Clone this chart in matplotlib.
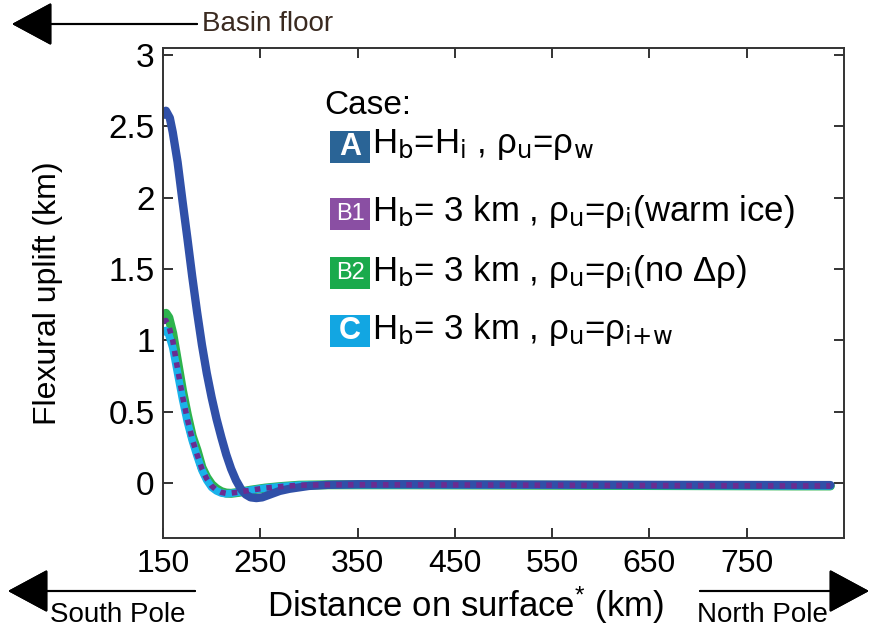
import matplotlib
matplotlib.use('Agg')
import matplotlib.pyplot as plt
from matplotlib.patches import Rectangle

# flexural uplift profiles (distance in km, uplift in km)
x_A = [150, 153, 157, 160, 165, 170, 175, 180, 185, 190, 195, 200, 205, 210, 215, 220,
       225, 230, 235, 240, 246, 252, 260, 270, 280, 290, 300, 320, 350, 400, 500, 600,
       700, 800, 836]
y_A = [2.58, 2.61, 2.56, 2.46, 2.25, 1.98, 1.72, 1.45, 1.20, 0.97, 0.77, 0.60, 0.45, 0.32,
       0.20, 0.10, 0.02, -0.04, -0.08, -0.10, -0.105, -0.10, -0.08, -0.055, -0.04, -0.03,
       -0.02, -0.012, -0.008, -0.008, -0.010, -0.012, -0.013, -0.014, -0.014]

x_B = [150, 153, 156, 160, 165, 170, 175, 180, 185, 190, 195, 200, 205, 210, 215, 220,
       228, 240, 255, 270, 290, 320, 400, 500, 600, 700, 800, 836]
y_B1 = [1.13, 1.14, 1.10, 1.00, 0.80, 0.61, 0.45, 0.31, 0.20, 0.10, 0.03, -0.02, -0.05,
        -0.065, -0.072, -0.07, -0.063, -0.05, -0.035, -0.025, -0.015, -0.012, -0.012,
        -0.014, -0.016, -0.018, -0.02, -0.02]
y_B2 = [1.15, 1.19, 1.16, 1.05, 0.85, 0.65, 0.48, 0.33, 0.23, 0.11, 0.04, -0.01, -0.04,
        -0.06, -0.07, -0.072, -0.065, -0.05, -0.035, -0.025, -0.015, -0.012, -0.012,
        -0.014, -0.016, -0.018, -0.02, -0.02]
y_C = [1.06, 1.07, 1.04, 0.95, 0.77, 0.59, 0.43, 0.30, 0.19, 0.09, 0.02, -0.03, -0.055,
       -0.07, -0.075, -0.072, -0.064, -0.05, -0.035, -0.025, -0.015, -0.012, -0.012,
       -0.014, -0.016, -0.018, -0.02, -0.02]

xticks = [150, 250, 350, 450, 550, 650, 750]
yticks = [0, 0.5, 1, 1.5, 2, 2.5, 3]
ytick_labels = ['0', '0.5', '1', '1.5', '2', '2.5', '3']

case_tags = ['A', 'B1', 'B2', 'C']
case_text = [r'H$_\mathrm{b}$=H$_\mathrm{i}$ , ρ$_\mathrm{u}$=ρ$_\mathrm{w}$',
             r'H$_\mathrm{b}$= 3 km , ρ$_\mathrm{u}$=ρ$_\mathrm{i}$(warm ice)',
             r'H$_\mathrm{b}$= 3 km , ρ$_\mathrm{u}$=ρ$_\mathrm{i}$(no Δρ)',
             r'H$_\mathrm{b}$= 3 km , ρ$_\mathrm{u}$=ρ$_{\mathrm{i{+}w}}$']
tag_colors = ['#2a6496', '#8a4fa3', '#1aaa4c', '#12a6e2']

plt.rcParams['font.family'] = ['Liberation Sans', 'DejaVu Sans']
plt.rcParams['mathtext.default'] = 'regular'
NARROW = ['Liberation Sans Narrow', 'Liberation Sans', 'DejaVu Sans']

W, H = 873, 633
fig = plt.figure(figsize=(W / 100, H / 100), dpi=100)


def fx(px):
    return px / W


def fy(py):
    return 1 - py / H


ax = fig.add_axes([fx(163), fy(538), fx(844) - fx(163), fy(48) - fy(538)])

ax.plot(x_B, y_B2, color='#2db34d', lw=6.5, solid_capstyle='round')
ax.plot(x_B, y_C, color='#1ab2ea', lw=5.5, solid_capstyle='round')
ax.plot(x_A, y_A, color='#3050a8', lw=6, solid_capstyle='round')
ax.plot(x_B, y_B1, color='#6a2c91', lw=4, linestyle=(0, (1, 1.1)))

ax.set_xlim(150, 850)
ax.set_ylim(-0.385, 3.05)
ax.set_xticks(xticks)
ax.set_xticklabels([str(t) for t in xticks], family=NARROW, fontsize=23)
ax.set_yticks(yticks)
ax.set_yticklabels(ytick_labels, fontsize=24)
ax.tick_params(direction='in', length=7, width=1.4, top=True, right=True,
               color='#333333')
ax.tick_params(axis='x', pad=8)
ax.tick_params(axis='y', pad=6)
for sp in ax.spines.values():
    sp.set_linewidth(1.4)
    sp.set_color('#333333')

fig.text(fx(48), fy(293), 'Flexural uplift (km)', rotation=90, fontsize=23,
         ha='center', va='center')
fig.text(fx(465), fy(605), r'Distance on surface$^{*}$ (km)', family=NARROW,
         fontsize=25, ha='center', va='center')

# legend block
fig.text(fx(324), fy(105), 'Case:', fontsize=24, ha='left', va='center')
rows = [147, 214, 273, 331]
for tag, txt, col, ry in zip(case_tags, case_text, tag_colors, rows):
    fig.add_artist(Rectangle((fx(330), fy(ry + 16)), fx(40), fy(ry - 16) - fy(ry + 16),
                             transform=fig.transFigure, fc=col, ec='none'))
    fig.text(fx(350), fy(ry), tag, color='white', fontsize=22 if len(tag) == 1 else 17,
             fontweight='bold' if len(tag) == 1 else 'normal',
             ha='center', va='center')
    fig.text(fx(372), fy(ry - 2), txt, fontsize=25, ha='left', va='center')

# direction arrows
arrow = dict(arrowstyle='-|>,head_length=1.3,head_width=0.7', color='black', lw=1.5,
             mutation_scale=20, shrinkA=0, shrinkB=0)
fig.add_artist(plt.annotate('', xy=(fx(12), fy(24)), xytext=(fx(197), fy(24)),
                            xycoords='figure fraction', arrowprops=arrow,
                            annotation_clip=False))
fig.text(fx(202), fy(24), 'Basin floor', family=NARROW, fontsize=20, color='#3a2a20',
         ha='left', va='center')
fig.add_artist(plt.annotate('', xy=(fx(8), fy(591)), xytext=(fx(195), fy(591)),
                            xycoords='figure fraction', arrowprops=arrow,
                            annotation_clip=False))
fig.text(fx(50), fy(615), 'South Pole', family=NARROW, fontsize=20, ha='left', va='center')
fig.add_artist(plt.annotate('', xy=(fx(869), fy(591)), xytext=(fx(700), fy(591)),
                            xycoords='figure fraction', arrowprops=arrow,
                            annotation_clip=False))
fig.text(fx(697), fy(615), 'North Pole', family=NARROW, fontsize=20, ha='left', va='center')

fig.savefig('out.png', dpi=100)
